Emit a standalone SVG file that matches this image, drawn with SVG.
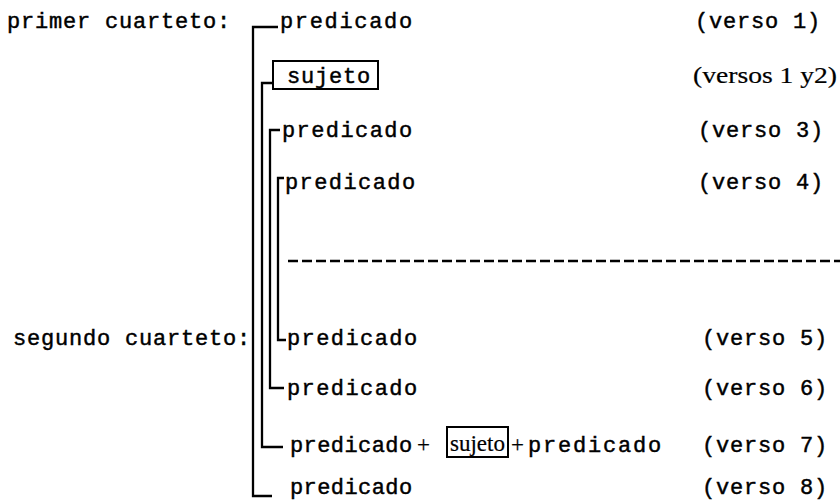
<svg xmlns="http://www.w3.org/2000/svg" width="840" height="501" viewBox="0 0 840 501">
<style>
.t{font-family:"Liberation Mono","Courier New",monospace;font-size:22px;letter-spacing:0.8px;fill:#000;stroke:#000;stroke-width:0.45}
.s{font-family:"Liberation Serif","Times New Roman",serif;font-size:23px;fill:#000;stroke:#000;stroke-width:0.2}
.ln{fill:none;stroke:#000;stroke-width:2.3}
.box{fill:none;stroke:#000;stroke-width:2}
.dash{fill:none;stroke:#000;stroke-width:2.6;stroke-dasharray:10 4}
</style>
<rect width="840" height="501" fill="#fff"/>
<g id="connectors">
<path class="ln" d="M278,27 H253 V496 H272"/>
<path class="ln" d="M273,83 H262 V447 H283"/>
<path class="ln" d="M280,130 H270 V388 H284"/>
<path class="ln" d="M284,178 H278 V340 H286"/>
<path class="dash" d="M288,261 H840"/>
</g>
<g id="label-primer"><text class="t" x="7" y="28">primer cuarteto:</text></g>
<g id="label-segundo"><text class="t" x="13" y="345">segundo cuarteto:</text></g>
<g id="row1"><text class="t" x="280" y="28" textLength="133">predicado</text><text class="t" x="695" y="28">(verso 1)</text></g>
<g id="row2"><rect class="box" x="273" y="61" width="105" height="28"/><text class="t" x="287" y="83">sujeto</text><text class="s" x="693" y="83" textLength="144" lengthAdjust="spacingAndGlyphs">(versos 1 y2)</text></g>
<g id="row3"><text class="t" x="282" y="137" textLength="131">predicado</text><text class="t" x="698" y="137">(verso 3)</text></g>
<g id="row4"><text class="t" x="285" y="189" textLength="131">predicado</text><text class="t" x="698" y="189">(verso 4)</text></g>
<g id="row5"><text class="t" x="287" y="345" textLength="131">predicado</text><text class="t" x="702" y="345">(verso 5)</text></g>
<g id="row6"><text class="t" x="287" y="395" textLength="131">predicado</text><text class="t" x="702" y="395">(verso 6)</text></g>
<g id="row7"><text class="t" x="290" y="452" textLength="123">predicado</text><text class="s" x="417" y="452">+</text><rect class="box" x="447" y="427" width="61" height="30"/><text class="s" x="450" y="451" font-size="27" textLength="55" lengthAdjust="spacingAndGlyphs">sujeto</text><text class="s" x="511" y="452">+</text><text class="t" x="528" y="452" textLength="134">predicado</text><text class="t" x="702" y="452">(verso 7)</text></g>
<g id="row8"><text class="t" x="290" y="494" textLength="123">predicado</text><text class="t" x="702" y="494">(verso 8)</text></g>
</svg>
